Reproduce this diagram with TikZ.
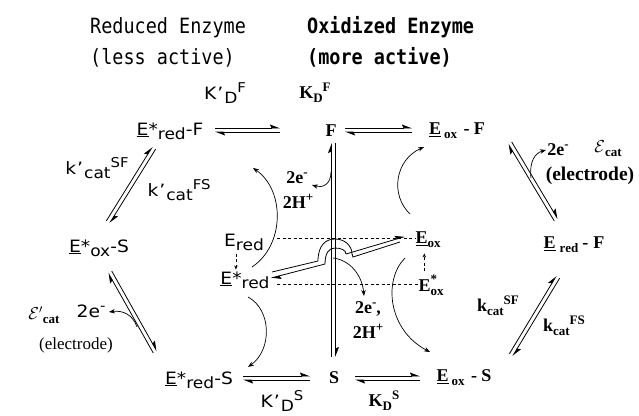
\documentclass[tikz,border=0pt]{standalone}
\usepackage{fontspec}
\setmainfont{Liberation Serif}
\setsansfont{DejaVu Sans}[FakeStretch=1.1]
\setmonofont{DejaVu Sans Mono}[FakeStretch=0.88]
\usetikzlibrary{arrows.meta,calc}
\newcommand\eqpair[2]{%
 \draw[harp] ($(#1)!2pt!90:(#2)$) -- ($(#2)!2pt!-90:(#1)$);
 \draw[harp] ($(#2)!2pt!90:(#1)$) -- ($(#1)!2pt!-90:(#2)$);}
\newcommand\sfl{\fontsize{17}{17}\selectfont\sffamily}
\newcommand\bfl{\fontsize{18}{18}\selectfont\rmfamily\bfseries}
\newcommand\sbs[1]{\raisebox{-4pt}{\fontsize{15.5}{15.5}\selectfont #1}}
\newcommand\sps[1]{\raisebox{7pt}{\fontsize{13.5}{13.5}\selectfont #1}}
\newcommand\bsb[1]{\raisebox{-4pt}{\fontsize{13}{13}\selectfont #1}}
\newcommand\bsp[1]{\raisebox{7pt}{\fontsize{13}{13}\selectfont #1}}
\newcommand\apo{\kern1pt\char"0027\kern1pt}
\begin{document}
\begin{tikzpicture}[x=1pt,y=-1pt,
  harp/.style={-{Stealth[harpoon,length=9pt,width=7pt,inset=1.5pt]},line width=0.8pt},
  carr/.style={-{Stealth[length=6pt,width=4.5pt]},line width=0.7pt},
  dsh/.style={dash pattern=on 3pt off 2.5pt,line width=0.7pt},
  dsha/.style={dsh,-{Stealth[length=4pt,width=3.5pt]}},
  sl/.style={inner sep=0pt,font=\sfl},
  bl/.style={inner sep=0pt,font=\bfl},
  tt/.style={inner sep=0pt,anchor=base west,font=\fontsize{21}{21}\selectfont\ttfamily}]
\useasboundingbox (0,0) rectangle (639,415);
% titles
\node[tt] (t1) at (90,33) {Reduced Enzyme};
\node[tt] (t2) at (90,64) {(less active)};
\node[tt,font=\fontsize{21}{21}\selectfont\ttfamily\bfseries] (t3) at (307,33) {Oxidized Enzyme};
\node[tt,font=\fontsize{21}{21}\selectfont\ttfamily\bfseries] (t4) at (307,64) {(more active)};
% labels
\node[sl] (kdpF) at (225,93) {K\apo\sbs{D}\sps{F}};
\node[bl] (kdF) at (315,93) {K\bsb{D}\bsp{F}};
\node[sl] (EsRF) at (170,131) {\underline{E}*\sbs{red}-F};
\node[bl] (F) at (331,131) {F};
\node[bl] (EoxF) at (457,131) {\underline{E}\hspace{3pt}\bsb{ox}\hspace{2pt} - F};
\node[bl] (e2R) at (558,150) {2e\bsp{-}};
\node[bl] (epsR) at (608,149) {$\mathcal{E}$\bsb{cat}};
\node[bl,font=\fontsize{19.5}{19.5}\selectfont\rmfamily\bfseries] (elecR) at (590,176) {(electrode)};
\node[bl] (EredF) at (574,245) {\underline{E}\hspace{4pt}\bsb{red}\hspace{4pt}-\hspace{5pt}F};
\node[bl] (kcSF) at (498,306) {k\bsb{cat}\bsp{SF}};
\node[bl] (kcFS) at (564,326) {k\bsb{cat}\bsp{FS}};
\node[bl] (EoxS) at (464,378) {\underline{E}\hspace{3pt}\bsb{ox}\hspace{2pt} - S};
\node[bl] (S) at (334,378) {S};
\node[sl] (EsRS) at (199,380) {\underline{E}*\sbs{red}-S};
\node[sl] (kdpS) at (282,401) {K\apo\sbs{D}\sps{S}};
\node[bl] (kdS) at (384,401) {K\bsb{D}\bsp{S}};
\node[sl] (kpSF) at (97,168) {k\apo\sbs{cat}\sps{SF}};
\node[sl] (kpFS) at (179,190) {k\apo\sbs{cat}\sps{FS}};
\node[sl] (EsOS) at (99,248) {\underline{E}*\sbs{ox}-S};
\node[bl] (epsL) at (44,315) {$\mathcal{E}'$\bsb{cat}};
\node[sl] (e2L) at (91,311) {2e\sps{-}};
\node[inner sep=0pt,font=\fontsize{17}{17}\selectfont\rmfamily] (elecL) at (76,345) {(electrode)};
\node[sl] (Ered) at (244,242) {E\sbs{red}};
\node[sl] (EsRed) at (245,280) {\underline{E}*\sbs{red}};
\node[bl] (Eox) at (428,240) {\underline{E}\bsb{ox}};
\node[bl] (EsOx) at (431,285) {E\rlap{\raisebox{8pt}{\fontsize{13}{13}\selectfont *}}\bsb{ox}};
\node[bl] (e2a) at (297,178) {2e\bsp{-}};
\node[bl] (h2a) at (298,201) {2H\bsp{+}};
\node[bl] (e2b) at (368,309) {2e\bsp{-},};
\node[bl] (h2b) at (368,331) {2H\bsp{+}};
% equilibrium pairs
\coordinate (a1) at (215,130); \coordinate (a2) at (280,130);
\coordinate (b1) at (345,130); \coordinate (b2) at (412,130);
\coordinate (c1) at (243,378); \coordinate (c2) at (310,378);
\coordinate (d1) at (355,378); \coordinate (d2) at (420,378);
\coordinate (v1) at (333.5,357); \coordinate (v2) at (333.5,143);
\coordinate (r1) at (556,220); \coordinate (r2) at (510,143);
\coordinate (s1) at (511,355); \coordinate (s2) at (558,277);
\coordinate (l1) at (108,222); \coordinate (l2) at (154,148);
\coordinate (m1) at (155,352); \coordinate (m2) at (110,272);
\eqpair{a1}{a2}
\eqpair{b1}{b2}
\eqpair{c1}{c2}
\eqpair{d1}{d2}
\eqpair{v1}{v2}
\eqpair{r1}{r2}
\eqpair{s1}{s2}
\eqpair{l1}{l2}
\eqpair{m1}{m2}
% dashed lines
\coordinate (q1) at (277,238);
\coordinate (q2) at (277,284);
\draw[dsh] (q1) -- (Eox.west |- q1);
\draw[dsh] (q2) -- (EsOx.west |- q2);
\draw[dsha] (Ered.south west) ++(12,3) coordinate (q3) -- ++(0,16);
\draw[dsha] (EsOx.north west) ++(6,-3) coordinate (q4) -- ++(0,-18);
% hop arrow
\draw[line width=0.8pt] (272,272) -- (318,261) .. controls (318,245) and (326,239) .. (335,239)
   .. controls (345,239) and (352,246) .. (352,254) -- (353,257) -- (400,242);
\draw[harp] (346,254) -- (405,236.5);
\draw[line width=0.8pt] (346,254) .. controls (346,250) and (341,248) .. (335,248)
   .. controls (329,248) and (325,253) .. (325,264);
\draw[harp] (325,264) -- (271,278);
% curved arrows
\draw[carr] (252,267) .. controls (285,245) and (285,190) .. (253,168);
\draw[carr] (248,297) .. controls (272,310) and (272,350) .. (248,367);
\draw[carr] (410,214) .. controls (390,195) and (395,160) .. (424,147);
\draw[carr] (405,258) .. controls (383,280) and (388,330) .. (430,352);
\draw[carr] (331,172) .. controls (331,185) and (322,188) .. (312,185);
\draw[carr] (333,258) .. controls (350,260) and (362,275) .. (364,296);
\draw[carr] (531,178) .. controls (529,162) and (535,153) .. (546,150);
\draw[carr] (137,327) .. controls (133,315) and (123,310) .. (109,312);
\end{tikzpicture}
\end{document}
